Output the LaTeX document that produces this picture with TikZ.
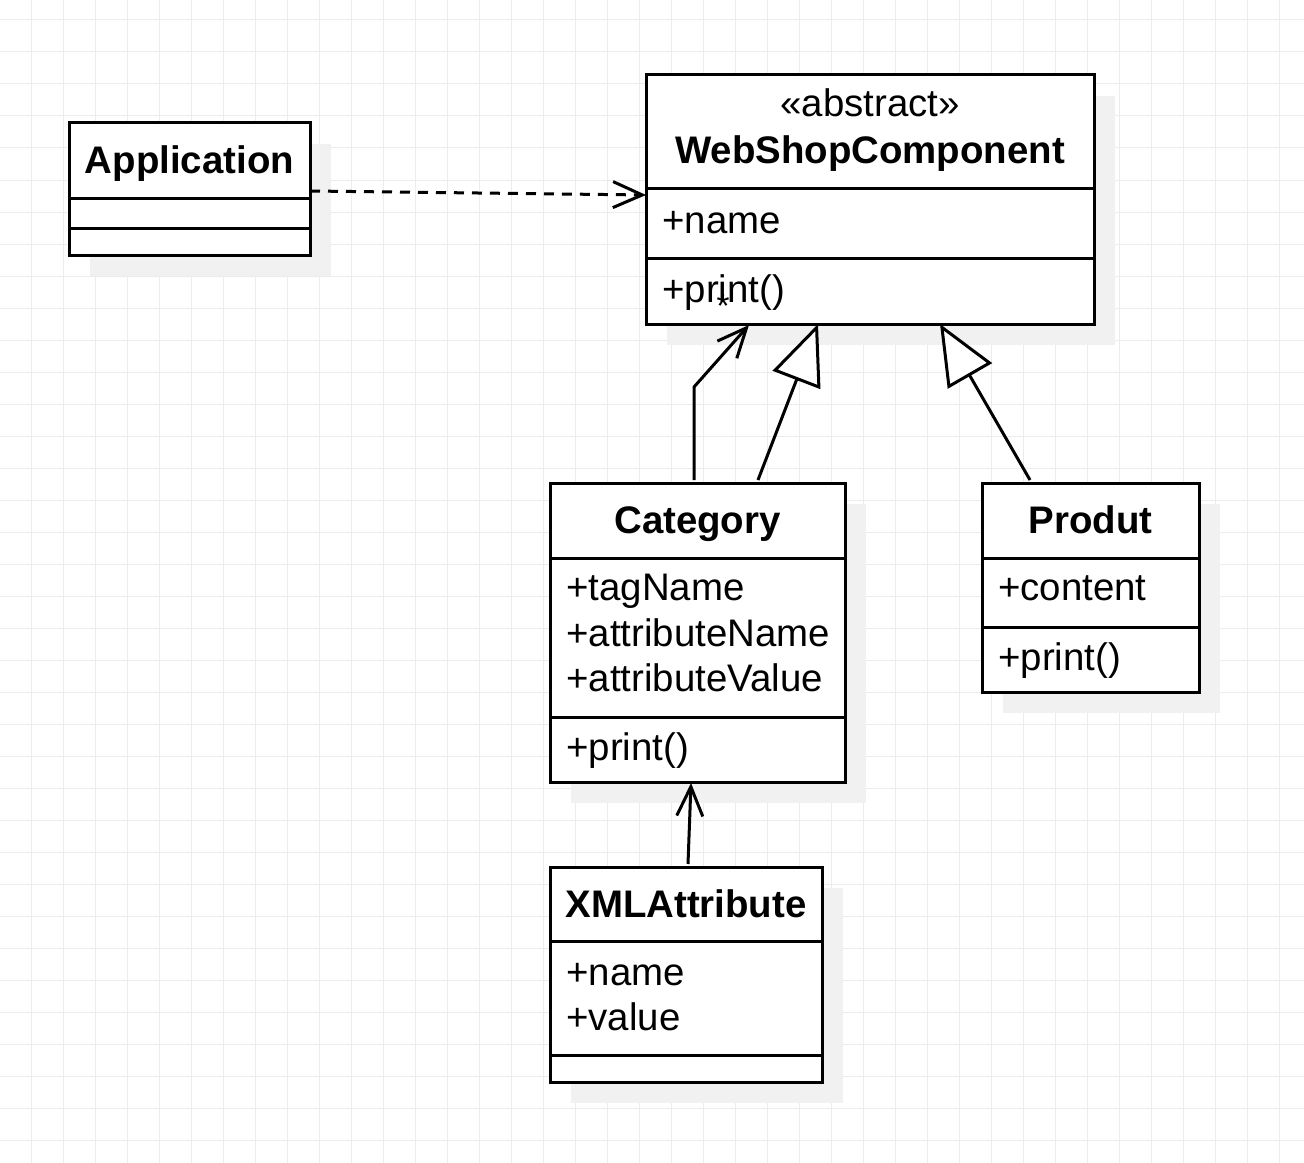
\documentclass[tikz,border=0pt]{standalone}
\usepackage{fontspec}
\setmainfont{Liberation Sans}
\usetikzlibrary{arrows.meta,shadows,calc}
\definecolor{gridc}{RGB}{236,236,236}
\definecolor{shadc}{RGB}{241,241,241}
\begin{document}
\begin{tikzpicture}[x=0.75pt,y=-0.75pt,
  classbox/.style={draw=black, line width=2.25pt, fill=white, anchor=north west,
    inner sep=0pt, outer sep=0pt, general shadow={fill=shadc, shadow xshift=15.75pt, shadow yshift=-15.75pt}},
  sepline/.style={draw=black, line width=2.25pt},
  attr/.style={anchor=base west, inner sep=0pt, font=\fontsize{28.8}{34}\selectfont},
  cname/.style={anchor=base, inner sep=0pt, font=\bfseries\fontsize{28.8}{34}\selectfont},
  stereo/.style={anchor=base, inner sep=0pt, font=\fontsize{28.8}{34}\selectfont},
  conn/.style={draw=black, line width=2.25pt},
  dep/.style={conn, dash pattern=on 7.5pt off 6pt, -{Straight Barb[length=22pt, width=19.5pt]}},
  assoc/.style={conn, -{Straight Barb[length=22pt, width=19.5pt]}},
  gen/.style={conn, -{Triangle[open, fill=white, length=45pt, width=38pt]}},
  mult/.style={anchor=base, inner sep=0pt, font=\fontsize{25}{30}\selectfont}
]
\useasboundingbox (0,0) rectangle (1304,1163);
\fill[white] (0,0) rectangle (1304,1163);
% grid
\foreach \k in {0,...,39} { \draw[gridc, line width=0.75pt] (31+32*\k,0) -- (31+32*\k,1163); }
\foreach \k in {0,...,35} { \draw[gridc, line width=0.75pt] (0,20+32*\k) -- (1304,20+32*\k); }

% Application
\node[classbox, minimum width=180.75pt, minimum height=99pt] (app) at (69,123) {};
\draw[sepline] (69,198) -- (310,198);
\draw[sepline] (69,228) -- (310,228);
\node[cname] (appt) at (189.5,173) {Application};

% WebShopComponent
\node[classbox, minimum width=336pt, minimum height=186.75pt] (web) at (646,75) {};
\draw[sepline] (646,188) -- (1094,188);
\draw[sepline] (646,258) -- (1094,258);
\node[stereo] (webs) at (870,117) {«abstract»};
\node[cname] (webt) at (870,163) {WebShopComponent};
\node[attr] (weba) at (662,233) {+name};
\node[attr] (webm) at (662,302) {+print()};
\node[mult] (star) at (723,317) {*};

% Category
\node[classbox, minimum width=221.25pt, minimum height=224.25pt] (cat) at (550,483) {};
\draw[sepline] (550,558) -- (845,558);
\draw[sepline] (550,717) -- (845,717);
\node[cname] (catt) at (697.5,533) {Category};
\node[attr] (cata1) at (566,600) {+tagName};
\node[attr] (cata2) at (566,646) {+attributeName};
\node[attr] (cata3) at (566,691) {+attributeValue};
\node[attr] (catm) at (566,760) {+print()};

% Produt
\node[classbox, minimum width=162.75pt, minimum height=156.75pt] (prod) at (982,483) {};
\draw[sepline] (982,558) -- (1199,558);
\draw[sepline] (982,627) -- (1199,627);
\node[cname] (prodt) at (1090.5,533) {Produt};
\node[attr] (proda) at (998,600) {+content};
\node[attr] (prodm) at (998,670) {+print()};

% XMLAttribute
\node[classbox, minimum width=204pt, minimum height=161.25pt] (xml) at (550,867) {};
\draw[sepline] (550,941) -- (822,941);
\draw[sepline] (550,1055) -- (822,1055);
\node[cname] (xmlt) at (686,917) {XMLAttribute};
\node[attr] (xmla1) at (566,985) {+name};
\node[attr] (xmla2) at (566,1030) {+value};

% connectors
\draw[dep] ($(app.east)+(0,2)$) -- ($(web.west)+(0,-4.5)$);
\draw[assoc] ($(cat.north west)+(144,-3)$) -- ++(0,-93) -- ($(web.south west)+(103,1)$);
\draw[gen] ($(cat.north west)+(208,-3)$) -- ($(web.south west)+(172,0)$);
\draw[gen] ($(prod.north west)+(48,-3)$) -- ($(web.south west)+(294,0)$);
\draw[assoc] ($(xml.north west)+(138,-3)$) -- ($(cat.south west)+(141,1)$);
\end{tikzpicture}
\end{document}
